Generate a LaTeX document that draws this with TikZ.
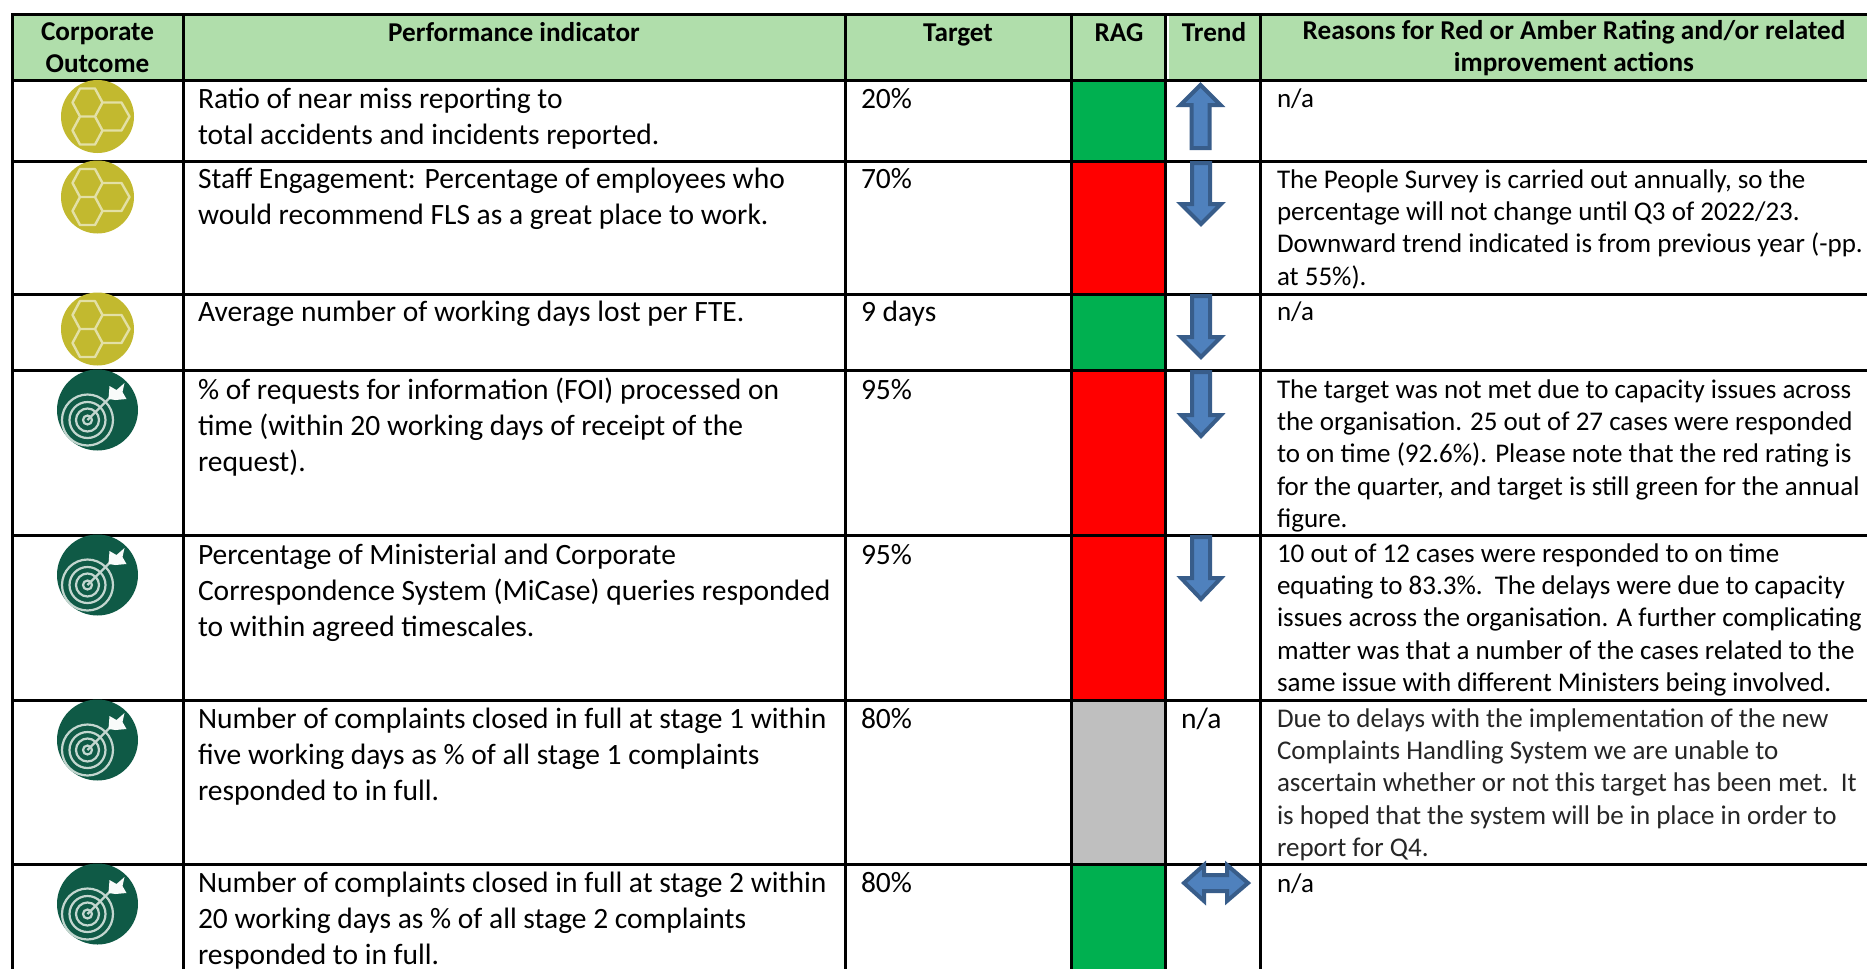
\documentclass[tikz,border=0pt]{standalone}
\usepackage{fontspec}
\setmainfont{Carlito}
\definecolor{headgreen}{HTML}{B0DEAB}
\definecolor{raggreen}{HTML}{00B050}
\definecolor{raggrey}{HTML}{BFBFBF}
\definecolor{arrowfill}{HTML}{4F81BD}
\definecolor{arrowline}{HTML}{385D8A}
\definecolor{hexfill}{HTML}{C2B92F}
\definecolor{hexline}{HTML}{E3E0A6}
\definecolor{tgtfill}{HTML}{0F5A46}
\definecolor{tgtline}{HTML}{C3D6CF}
\newcommand{\fl}{\rule{0pt}{24pt}}
\newcommand{\hexat}[2]{(#1+15,#2) -- (#1+7.5,#2-14) -- (#1-7.5,#2-14) -- (#1-15,#2) -- (#1-7.5,#2+14) -- (#1+7.5,#2+14) -- cycle}
\newcommand{\trendup}[4]{\draw[trendarrow] (#1,#2) -- (#1+20,#3) -- (#1+9,#3) -- (#1+9,#4) -- (#1-9,#4) -- (#1-9,#3) -- (#1-20,#3) -- cycle;}
\tikzset{
  body/.style={anchor=north west,inner sep=0pt,outer sep=0pt,align=left,font=\fontsize{29.5}{36}\selectfont},
  reason/.style={anchor=north west,inner sep=0pt,outer sep=0pt,align=left,font=\fontsize{27}{32.4}\selectfont},
  head/.style={inner sep=0pt,outer sep=0pt,align=center,font=\fontsize{27.2}{32}\selectfont\bfseries},
  gridrule/.style={line width=3pt,black},
  trendarrow/.style={draw=arrowline,fill=arrowfill,line width=4pt,miter limit=10},
  hexicon/.pic={
    \fill[hexfill] (0,0) circle (36.5);
    \draw[hexline,line width=2.4pt,line join=round] \hexat{-10}{-14} \hexat{-10}{14}
      (5,-14) -- (24,-14) -- (32,0) -- (24,14) -- (5,14);
  },
  targeticon/.pic={
    \fill[tgtfill] (0,0) circle (40.5);
    \begin{scope}[tgtline,line width=2.2pt]
      \draw (-10,10) circle (25.5) circle (18) circle (11.5);
      \draw (-10,10) circle (4.5);
      \draw[line width=2.4pt] (-10,10) -- (16,-16);
      \fill[white!90!tgtline] (11,-11) -- (12,-24) -- (19,-20) -- (27,-27) -- (25,-18) -- (29,-11) -- (18,-10) -- cycle;
    \end{scope}
  }
}
\begin{document}
\begin{tikzpicture}[x=1pt,y=-1pt]
\useasboundingbox (0,0) rectangle (1867,969);
\clip (0,0) rectangle (1867,969);
\fill[white] (0,0) rectangle (1867,969);
% header band
\fill[headgreen] (12,14) rectangle (1867,80);
\draw[white,line width=1.5pt] (1168,15) -- (1168,79);
% RAG cells
\fill[raggreen] (1071,80) rectangle (1165,161);
\fill[red] (1071,161) rectangle (1165,294);
\fill[raggreen] (1071,294) rectangle (1165,370);
\fill[red] (1071,370) rectangle (1165,700);
\fill[raggrey] (1071,700) rectangle (1165,864);
\fill[raggreen] (1071,864) rectangle (1165,969);
% grid
\foreach \yy in {14,80,161,294,370,535,700,864} \draw[gridrule] (11,\yy) -- (1867,\yy);
\foreach \xx in {12,183,845,1071,1165,1260} \draw[gridrule] (\xx,13) -- (\xx,969);
% icons
\pic at (97.5,116.5) {hexicon};
\pic at (97.5,197) {hexicon};
\pic at (97.5,329) {hexicon};
\pic at (97.5,410) {targeticon};
\pic at (97.5,575) {targeticon};
\pic at (97.5,740) {targeticon};
\pic at (97.5,904) {targeticon};
% trend arrows
\trendup{1200.5}{85}{105}{148}
\trendup{1201}{224}{204}{163}
\trendup{1201}{357}{337}{296}
\trendup{1201}{436}{415}{372}
\trendup{1201}{599}{578}{537}
\draw[trendarrow] (1184,883) -- (1204,865) -- (1204,875) -- (1227,875) -- (1227,865) -- (1248,883) -- (1227,901) -- (1227,891) -- (1204,891) -- (1204,901) -- cycle;
% header text
\node[head] (h1) at (97.5,47.5) {Corporate\\Outcome};
\node[head,anchor=base] (h2) at (514,41) {Performance indicator};
\node[head,anchor=base] (h3) at (958,41) {Target};
\node[head,anchor=base] (h4) at (1119,41) {RAG};
\node[head,anchor=base] (h5) at (1214,41) {Trend};
\node[head] (h6) at (1574,48) {Reasons for Red or Amber Rating and/or related\\improvement actions};
% indicators
\node[body] (p1) at (198,84) {\fl Ratio of near miss reporting to\\total accidents and incidents reported.};
\node[body] (p2) at (198,164) {\fl Staff Engagement: Percentage of employees who\\would recommend FLS as a great place to work.};
\node[body] (p3) at (198,297) {\fl Average number of working days lost per FTE.};
\node[body] (p4) at (198,375) {\fl\% of requests for information (FOI) processed on\\time (within 20 working days of receipt of the\\request).};
\node[body] (p5) at (198,540) {\fl Percentage of Ministerial and Corporate\\Correspondence System (MiCase) queries responded\\to within agreed timescales.};
\node[body] (p6) at (198,704) {\fl Number of complaints closed in full at stage 1 within\\five working days as \% of all stage 1 complaints\\responded to in full.};
\node[body] (p7) at (198,868) {\fl Number of complaints closed in full at stage 2 within\\20 working days as \% of all stage 2 complaints\\responded to in full.};
% targets
\node[body] (t1) at (861,84) {\fl 20\%};
\node[body] (t2) at (861,164) {\fl 70\%};
\node[body] (t3) at (861,297) {\fl 9 days};
\node[body] (t4) at (861,375) {\fl 95\%};
\node[body] (t5) at (861,540) {\fl 95\%};
\node[body] (t6) at (861,704) {\fl 80\%};
\node[body] (t7) at (861,868) {\fl 80\%};
\node[body] (tr6) at (1181,704) {\fl n/a};
% reasons
\node[reason] (r1) at (1277,83) {\fl n/a};
\node[reason] (r2) at (1277,164) {\fl The People Survey is carried out annually, so the\\percentage will not change until Q3 of 2022/23.\\Downward trend indicated is from previous year (-pp.\\at 55\%).};
\node[reason] (r3) at (1277,296) {\fl n/a};
\node[reason] (r4) at (1277,374) {\fl The target was not met due to capacity issues across\\the organisation. 25 out of 27 cases were responded\\to on time (92.6\%). Please note that the red rating is\\for the quarter, and target is still green for the annual\\figure.};
\node[reason] (r5) at (1277,538) {\fl 10 out of 12 cases were responded to on time\\equating to 83.3\%.\ \ The delays were due to capacity\\issues across the organisation. A further complicating\\matter was that a number of the cases related to the\\same issue with different Ministers being involved.};
\node[reason,text=black!85] (r6) at (1277,703) {\fl Due to delays with the implementation of the new\\Complaints Handling System we are unable to\\ascertain whether or not this target has been met.\ \ It\\is hoped that the system will be in place in order to\\report for Q4.};
\node[reason] (r7) at (1277,868) {\fl n/a};
\end{tikzpicture}
\end{document}
